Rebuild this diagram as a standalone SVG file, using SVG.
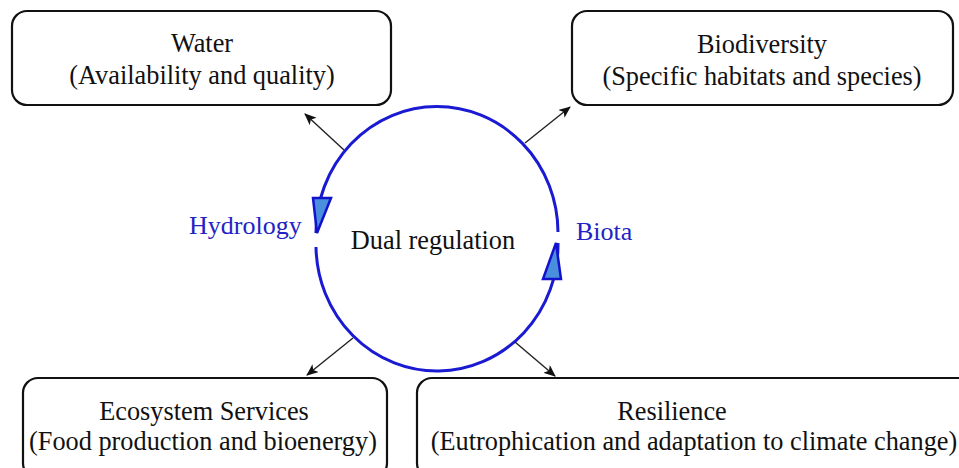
<svg xmlns="http://www.w3.org/2000/svg" width="959" height="468" viewBox="0 0 959 468">
<defs>
<style>
.box{fill:#fff;stroke:#111;stroke-width:2.2}
.t{font-family:"Liberation Serif","Times New Roman",serif;font-size:26.3px;fill:#111;text-anchor:middle}
.bl{font-family:"Liberation Serif","Times New Roman",serif;font-size:26px;fill:#2323c4}
.ring{fill:none;stroke:#1a1ad2;stroke-width:3}
.tri{fill:#4a8ede;stroke:#1212cc;stroke-width:2.5;stroke-linejoin:miter}
.con{stroke:#222;stroke-width:1.4;fill:none;marker-end:url(#ah)}
</style>
<marker id="ah" viewBox="0 0 12 10" refX="11" refY="5" markerWidth="12" markerHeight="10" markerUnits="userSpaceOnUse" orient="auto">
<path d="M0,0 L12,5 L0,10 L3,5 Z" fill="#111"/>
</marker>
</defs>
<rect width="959" height="468" fill="#fff"/>

<g id="water">
<rect class="box" x="12" y="11" width="379" height="94" rx="15"/>
<text class="t" x="202" y="52">Water</text>
<text class="t" x="202" y="84">(Availability and quality)</text>
</g>

<g id="biodiversity">
<rect class="box" x="572" y="11" width="381" height="94" rx="15"/>
<text class="t" x="762" y="53">Biodiversity</text>
<text class="t" x="762" y="85">(Specific habitats and species)</text>
</g>

<g id="ecosystem">
<rect class="box" x="23" y="378" width="364" height="100" rx="15"/>
<text class="t" x="204" y="420">Ecosystem Services</text>
<text class="t" x="203" y="450">(Food production and bioenergy)</text>
</g>

<g id="resilience">
<rect class="box" x="417" y="378" width="560" height="100" rx="15"/>
<text class="t" x="672" y="420">Resilience</text>
<text class="t" x="694" y="450">(Eutrophication and adaptation to climate change)</text>
</g>

<g id="cycle">
<path class="ring" d="M316,233 A121,126 0 0 1 558,232"/>
<path class="ring" d="M558,243 A121,126 0 0 1 316,247"/>
<polygon class="tri" points="313,198 331,198 317,233"/>
<polygon class="tri" points="556,243 543,279 561,279"/>
<text class="bl" x="189" y="234">Hydrology</text>
<text class="bl" x="576" y="240">Biota</text>
<text class="t" x="433" y="249">Dual regulation</text>
</g>

<g id="connectors">
<line class="con" x1="344" y1="150" x2="305" y2="114"/>
<line class="con" x1="525" y1="143" x2="570" y2="107"/>
<line class="con" x1="353" y1="338" x2="307" y2="375"/>
<line class="con" x1="515" y1="342" x2="555" y2="376"/>
</g>
</svg>
